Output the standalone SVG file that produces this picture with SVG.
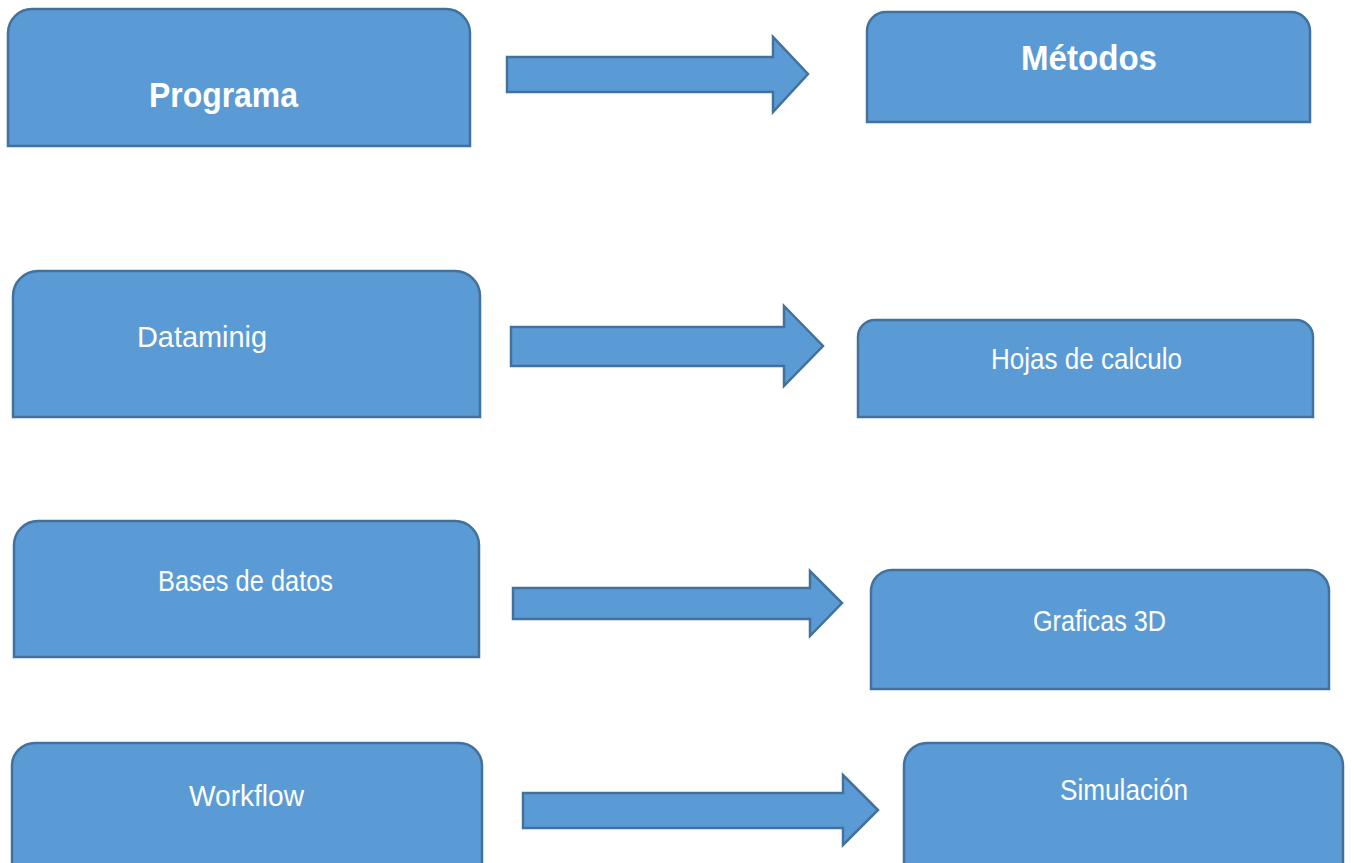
<svg xmlns="http://www.w3.org/2000/svg" width="1354" height="863" viewBox="0 0 1354 863">
<style>
.box{fill:#5B9BD5;stroke:#41719C;stroke-width:2.5}
.arr{fill:#5B9BD5;stroke:#41719C;stroke-width:2.5;stroke-linejoin:miter}
.t{fill:#FFFFFF;font-family:"Liberation Sans",Arial,sans-serif;font-size:29px}
.b{font-weight:bold;font-size:35px}
</style>
<rect width="1354" height="863" fill="#FFFFFF"/>
<g id="programa">
<path class="box" d="M8,146 L8,33 A24,24 0 0 1 32,9 L446,9 A24,24 0 0 1 470,33 L470,146 Z"/>
<text class="t b" x="149" y="107" textLength="149" lengthAdjust="spacingAndGlyphs">Programa</text>
</g>
<g id="metodos">
<path class="box" d="M867,122 L867,31 A19,19 0 0 1 886,12 L1291,12 A19,19 0 0 1 1310,31 L1310,122 Z"/>
<text class="t b" x="1021" y="70" textLength="136" lengthAdjust="spacingAndGlyphs">Métodos</text>
</g>
<g id="dataminig">
<path class="box" d="M13,417 L13,296 A25,25 0 0 1 38,271 L455,271 A25,25 0 0 1 480,296 L480,417 Z"/>
<text class="t" x="137" y="347" textLength="130" lengthAdjust="spacingAndGlyphs">Dataminig</text>
</g>
<g id="hojas">
<path class="box" d="M858,417 L858,337 A17,17 0 0 1 875,320 L1296,320 A17,17 0 0 1 1313,337 L1313,417 Z"/>
<text class="t" x="991" y="369" textLength="191" lengthAdjust="spacingAndGlyphs">Hojas de calculo</text>
</g>
<g id="bases">
<path class="box" d="M14,657 L14,545 A24,24 0 0 1 38,521 L455,521 A24,24 0 0 1 479,545 L479,657 Z"/>
<text class="t" x="158" y="591" textLength="175" lengthAdjust="spacingAndGlyphs">Bases de datos</text>
</g>
<g id="graficas">
<path class="box" d="M871,689 L871,591 A21,21 0 0 1 892,570 L1308,570 A21,21 0 0 1 1329,591 L1329,689 Z"/>
<text class="t" x="1033" y="631" textLength="133" lengthAdjust="spacingAndGlyphs">Graficas 3D</text>
</g>
<g id="workflow">
<path class="box" d="M12,870 L12,766 A23,23 0 0 1 35,743 L459,743 A23,23 0 0 1 482,766 L482,870 Z"/>
<text class="t" x="189" y="806" textLength="115" lengthAdjust="spacingAndGlyphs">Workflow</text>
</g>
<g id="simulacion">
<path class="box" d="M904,870 L904,766 A23,23 0 0 1 927,743 L1320,743 A23,23 0 0 1 1343,766 L1343,870 Z"/>
<text class="t" x="1060" y="800" textLength="128" lengthAdjust="spacingAndGlyphs">Simulación</text>
</g>
<g id="connectors">
<path class="arr" d="M507,57 L773,57 L773,37 L808,74 L773,112 L773,92 L507,92 Z"/>
<path class="arr" d="M511,327 L784,327 L784,306 L823,346 L784,386 L784,366 L511,366 Z"/>
<path class="arr" d="M513,588 L810,588 L810,571 L842,603 L810,636 L810,619 L513,619 Z"/>
<path class="arr" d="M523,793 L843,793 L843,775 L878,810 L843,845 L843,828 L523,828 Z"/>
</g>
</svg>
